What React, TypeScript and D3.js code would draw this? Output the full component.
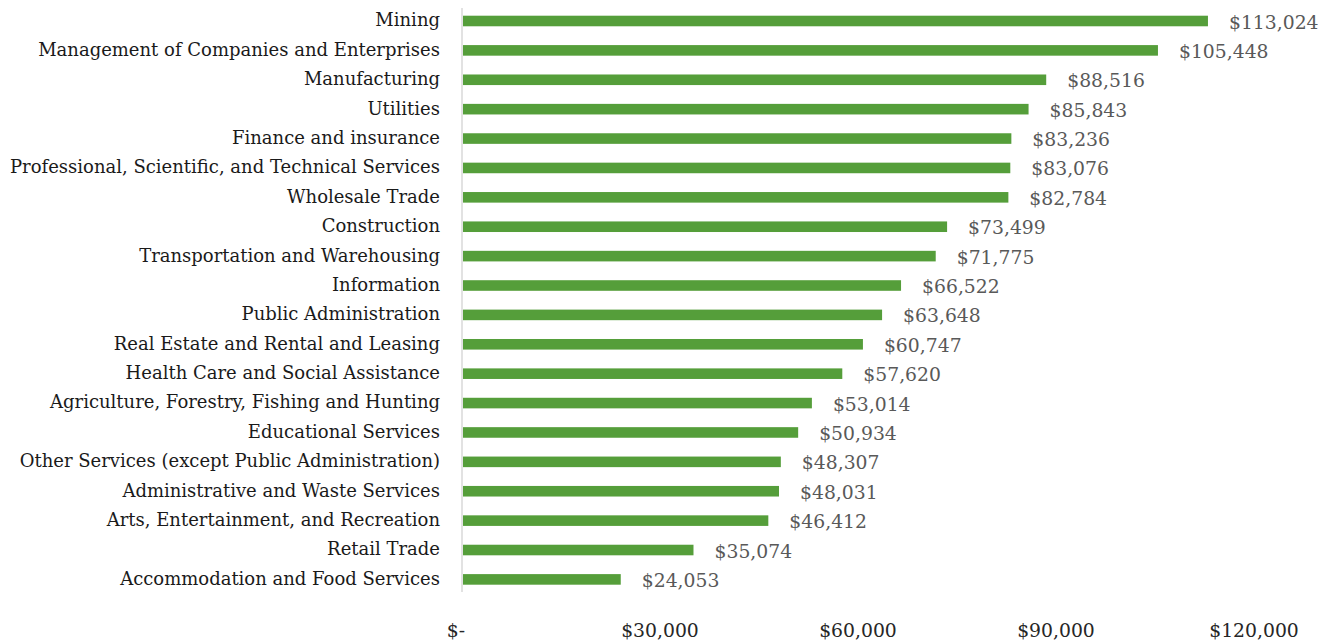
import React from "react";
import * as d3 from "d3";

const categories = [
  "Mining",
  "Management of Companies and Enterprises",
  "Manufacturing",
  "Utilities",
  "Finance and insurance",
  "Professional, Scientific, and Technical Services",
  "Wholesale Trade",
  "Construction",
  "Transportation and Warehousing",
  "Information",
  "Public Administration",
  "Real Estate and Rental and Leasing",
  "Health Care and Social Assistance",
  "Agriculture, Forestry, Fishing and Hunting",
  "Educational Services",
  "Other Services (except Public Administration)",
  "Administrative and Waste Services",
  "Arts, Entertainment, and Recreation",
  "Retail Trade",
  "Accommodation and Food Services",
];

const values = [
  113024, 105448, 88516, 85843, 83236, 83076, 82784, 73499, 71775, 66522,
  63648, 60747, 57620, 53014, 50934, 48307, 48031, 46412, 35074, 24053,
];

const tickValues = [0, 30000, 60000, 90000, 120000];
const tickLabels = ["$-", "$30,000", "$60,000", "$90,000", "$120,000"];

const W = 1330;
const H = 642;
const FONT = "'DejaVu Serif', serif";

export default function App() {
  const x = d3.scaleLinear().domain([0, 120000]).range([462, 1254]);
  const y = d3
    .scaleBand<string>()
    .domain(categories)
    .range([6.3, 594.1])
    .paddingInner(0.64)
    .paddingOuter(0.32);
  const fmt = d3.format(",");

  return (
    <svg
      width={W}
      height={H}
      style={{ position: "absolute", left: 0, top: 0, background: "#fff" }}
    >
      <line x1={x(0)} x2={x(0)} y1={8} y2={592} stroke="#d9d9d9" strokeWidth={1.5} />
      {categories.map((c, i) => {
        const yy = y(c)!;
        const bw = y.bandwidth();
        return (
          <g key={c}>
            <rect
              x={x(0) + 1}
              y={yy}
              width={x(values[i]) - x(0) - 1}
              height={bw}
              fill="#559e3a"
            />
            <text
              x={440}
              y={yy + bw / 2}
              dy="0.3em"
              textAnchor="end"
              fontFamily={FONT}
              fontSize={18}
              fill="#1a1a1a"
            >
              {c}
            </text>
            <text
              x={x(values[i]) + 21}
              y={yy + bw / 2}
              dy="0.4em"
              fontFamily={FONT}
              fontSize={18.8}
              fill="#595959"
            >
              {"$" + fmt(values[i])}
            </text>
          </g>
        );
      })}
      {tickValues.map((t, i) => (
        <text
          key={t}
          x={x(t) + (t === 0 ? -6 : 0)}
          y={630}
          dy="0.35em"
          textAnchor="middle"
          fontFamily={FONT}
          fontSize={18.8}
          fill="#262626"
        >
          {tickLabels[i]}
        </text>
      ))}
    </svg>
  );
}
